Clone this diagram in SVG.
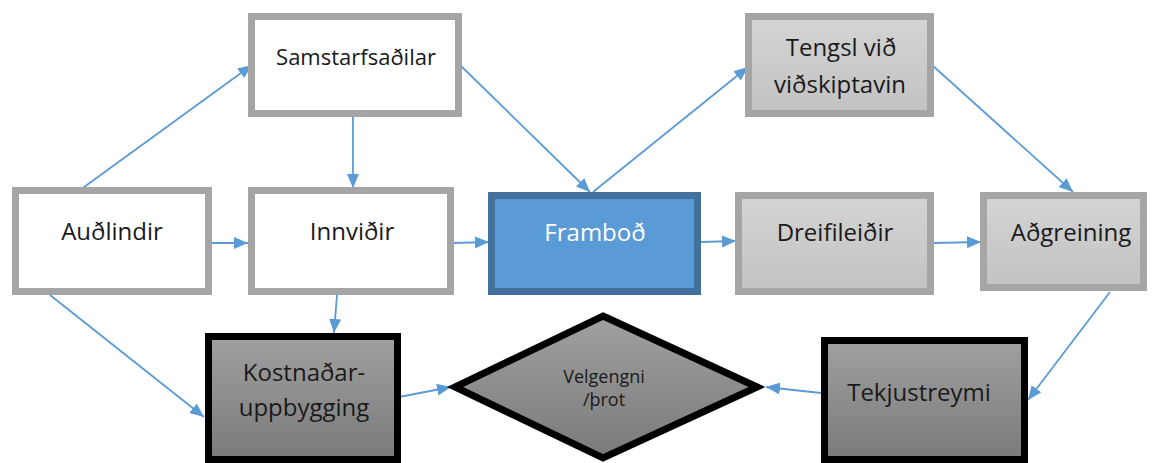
<svg xmlns="http://www.w3.org/2000/svg" width="1153" height="463" viewBox="0 0 1153 463">
  <defs>
    <style>
      .label { font-family: "Open Sans", "Liberation Sans", sans-serif; font-size: 24px; text-anchor: middle; fill: #1a1a1a; }
      .plain { fill: #ffffff; stroke: #a5a5a5; stroke-width: 7; }
      .light { fill: url(#lightFill); stroke: #a5a5a5; stroke-width: 7; }
      .dark { fill: url(#darkFill); stroke: #000000; stroke-width: 7; }
      .offer { fill: #5b9bd5; stroke: #41719c; stroke-width: 7; }
      .link { fill: none; stroke: #5b9bd5; stroke-width: 1.8; marker-end: url(#arrow); }
    </style>
    <linearGradient id="lightFill" x1="0" y1="0" x2="0" y2="1">
      <stop offset="0" stop-color="#d4d4d4"/>
      <stop offset="1" stop-color="#c2c2c2"/>
    </linearGradient>
    <linearGradient id="darkFill" x1="0" y1="0" x2="0" y2="1">
      <stop offset="0" stop-color="#a0a0a0"/>
      <stop offset="1" stop-color="#7a7a7a"/>
    </linearGradient>
    <marker id="arrow" markerUnits="userSpaceOnUse" markerWidth="15" markerHeight="13" refX="14" refY="6" orient="auto">
      <path d="M0,0 L14,6 L0,12 Z" fill="#5b9bd5"/>
    </marker>
  </defs>

  <!-- connectors -->
  <g id="connectors">
    <line class="link" x1="80" y1="190" x2="252" y2="65"/>
    <line class="link" x1="353" y1="117" x2="353" y2="188"/>
    <line class="link" x1="460" y1="65" x2="590" y2="192"/>
    <line class="link" x1="593" y1="192" x2="748" y2="67"/>
    <line class="link" x1="932" y1="65" x2="1073" y2="192"/>
    <line class="link" x1="212" y1="243" x2="248" y2="243"/>
    <line class="link" x1="454" y1="243" x2="489" y2="242"/>
    <line class="link" x1="701" y1="242" x2="736" y2="241"/>
    <line class="link" x1="934" y1="243" x2="981" y2="242"/>
    <line class="link" x1="1110" y1="292" x2="1028" y2="400"/>
    <line class="link" x1="821" y1="393" x2="766" y2="387"/>
    <line class="link" x1="399" y1="397" x2="451" y2="387"/>
    <line class="link" x1="337" y1="295" x2="334" y2="333"/>
    <line class="link" x1="50" y1="295" x2="204" y2="417"/>
  </g>

  <g id="samstarfsadilar">
    <rect class="plain" x="251.5" y="16.5" width="207" height="97"/>
    <text class="label" x="356" y="65" style="font-size:22px">Samstarfsaðilar</text>
  </g>

  <g id="audlindir">
    <rect class="plain" x="15.5" y="190.5" width="193" height="101"/>
    <text class="label" x="112" y="240">Auðlindir</text>
  </g>

  <g id="innvidir">
    <rect class="plain" x="251.5" y="190.5" width="199" height="101"/>
    <text class="label" x="352" y="240">Innviðir</text>
  </g>

  <g id="tengsl">
    <rect class="light" x="748.5" y="16.5" width="182" height="97"/>
    <text class="label" x="841" y="56">Tengsl við</text>
    <text class="label" x="840" y="93">viðskiptavin</text>
  </g>

  <g id="frambod">
    <rect class="offer" x="491.5" y="195.5" width="206" height="96"/>
    <text class="label" x="595" y="241" style="fill:#ffffff">Framboð</text>
  </g>

  <g id="dreifileidir">
    <rect class="light" x="738.5" y="195.5" width="192" height="96"/>
    <text class="label" x="835" y="241">Dreifileiðir</text>
  </g>

  <g id="adgreining">
    <rect class="light" x="983.5" y="195.5" width="160" height="92"/>
    <text class="label" x="1071" y="241">Aðgreining</text>
  </g>

  <g id="kostnadaruppbygging">
    <rect class="dark" x="208.5" y="336.5" width="189" height="123"/>
    <text class="label" x="304" y="381">Kostnaðar-</text>
    <text class="label" x="304" y="416">uppbygging</text>
  </g>

  <g id="velgengni">
    <polygon points="603,316 757,387 603,458 455,387" fill="url(#darkFill)" stroke="#000000" stroke-width="7" stroke-linejoin="miter"/>
    <text class="label" x="604" y="383" style="font-size:18px">Velgengni</text>
    <text class="label" x="604" y="406" style="font-size:18px">/þrot</text>
  </g>

  <g id="tekjustreymi">
    <rect class="dark" x="824.5" y="340.5" width="200" height="119"/>
    <text class="label" x="919" y="401">Tekjustreymi</text>
  </g>
</svg>
